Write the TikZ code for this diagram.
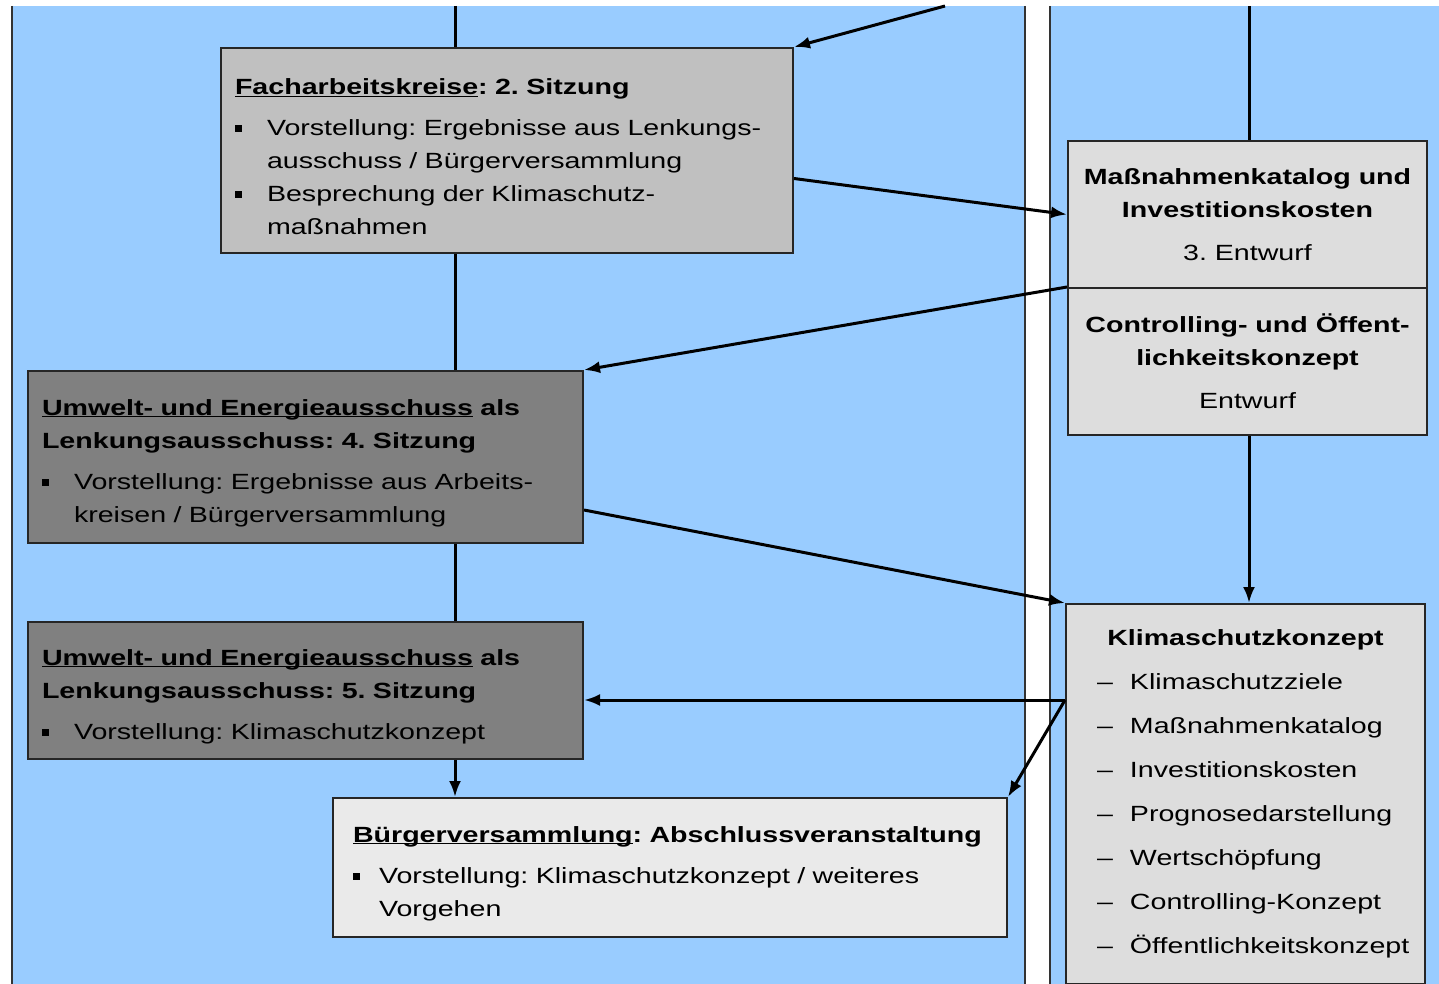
\documentclass[tikz,border=0pt]{standalone}
\usepackage{fontspec}
\setmainfont{Liberation Sans}[FakeStretch=1.3]
\usetikzlibrary{arrows.meta}

\definecolor{panelblue}{HTML}{99CCFF}
\definecolor{fachgray}{HTML}{C0C0C0}
\definecolor{lenkgray}{HTML}{808080}
\definecolor{buergergray}{HTML}{EAEAEA}
\definecolor{konzgray}{HTML}{DDDDDD}

\newcommand{\sqbul}[1][32pt]{\makebox[#1][l]{\rule[3pt]{7pt}{7pt}}}
\newcommand{\dashit}[1]{\mbox{\makebox[33pt][l]{--}#1}}
\newcommand{\ulword}[1]{\underline{\smash{#1}}}
\newcommand{\nohyph}{\hyphenpenalty=10000\relax\frenchspacing}
\newcommand{\topstrut}{\rule{0pt}{28pt}}

\begin{document}
\begin{tikzpicture}
[x=1pt,y=-1pt]
\tikzstyle{box}=[rectangle,draw=black!85,line width=2pt,inner ysep=0pt,
  font=\fontsize{22}{33}\selectfont\nohyph]
\tikzstyle{lbox}=[box,inner xsep=14pt,align=left]
\tikzstyle{cbox}=[box,fill=konzgray,minimum width=359pt,minimum height=147pt,align=center]
\tikzstyle{conn}=[line width=3pt]
\tikzstyle{arr}=[conn,-{Latex[length=16pt,width=12pt]}]

\useasboundingbox (0,0) rectangle (1439,984);

% panels
\fill[panelblue] (12,6) rectangle (1025,984);
\fill[panelblue] (1050,6) rectangle (1439,984);
\draw[line width=1.5pt,black!80] (12,6) -- (12,984);
\draw[line width=1.5pt,black!80] (1025,6) -- (1025,984);
\draw[line width=1.5pt,black!80] (1050,6) -- (1050,984);

\coordinate(tl) at (455,6);
\coordinate(tr) at (1249,6);
\coordinate(td) at (945,6);

\node(fach)[lbox,fill=fachgray,minimum width=572pt,minimum height=205pt,text width=544pt]
  at (507,150.5){\topstrut\textbf{\ulword{Facharbeitskreise}: 2. Sitzung}\\[8pt]
  \sqbul Vorstellung: Ergebnisse aus Lenkungs-\\
  \hspace*{32pt}ausschuss / Bürgerversammlung\\
  \sqbul Besprechung der Klimaschutz-\\
  \hspace*{32pt}maßnahmen};

\node(lenk4)[lbox,fill=lenkgray,minimum width=555pt,minimum height=172pt,text width=527pt]
  at (305.5,457){\topstrut\textbf{\ulword{Umwelt- und Energieausschuss} als}\\
  \textbf{Lenkungsausschuss: 4. Sitzung}\\[8pt]
  \sqbul Vorstellung: Ergebnisse aus Arbeits-\\
  \hspace*{32pt}kreisen / Bürgerversammlung};

\node(lenk5)[lbox,fill=lenkgray,minimum width=555pt,minimum height=137pt,text width=527pt]
  at (305.5,690.5){\topstrut\textbf{\ulword{Umwelt- und Energieausschuss} als}\\
  \textbf{Lenkungsausschuss: 5. Sitzung}\\[8pt]
  \sqbul Vorstellung: Klimaschutzkonzept};

\node(buerger)[lbox,fill=buergergray,inner xsep=20pt,minimum width=674pt,minimum height=139pt,text width=634pt]
  at (670,867.5){\topstrut\mbox{\textbf{\ulword{Bürgerversammlung}: Abschlussveranstaltung}}\\[8pt]
  \sqbul[26pt]Vorstellung: Klimaschutzkonzept / weiteres\\
  \hspace*{26pt}Vorgehen};

\node(mass)[cbox] at (1247.5,214.5){\textbf{Maßnahmenkatalog und}\\
  \textbf{Investitionskosten}\\[10pt] 3. Entwurf};

\node(contr)[cbox] at (1247.5,361.5){\textbf{Controlling- und Öffent-}\\
  \textbf{lichkeitskonzept}\\[10pt] Entwurf};

\node(klima)[box,fill=konzgray,inner xsep=31pt,minimum width=359pt,minimum height=380pt,
  text width=297pt,align=left,font=\fontsize{22}{44}\selectfont\nohyph]
  at (1245.5,794){\makebox[\linewidth]{\textbf{Klimaschutzkonzept}}\\
  \dashit{Klimaschutzziele}\\
  \dashit{Maßnahmenkatalog}\\
  \dashit{Investitionskosten}\\
  \dashit{Prognosedarstellung}\\
  \dashit{Wertschöpfung}\\
  \dashit{Controlling-Konzept}\\
  \dashit{Öffentlichkeitskonzept}};

\coordinate(kw) at ([yshift=94pt]klima.west);

% main line left
\draw[conn](tl)--(tl|-fach.north);
\draw[conn](fach.south-|tl)--(tl|-lenk4.north);
\draw[conn](lenk4.south-|tl)--(tl|-lenk5.north);
\draw[arr](lenk5.south-|tl)--(tl|-buerger.north);

% main line right
\draw[conn](tr)--(tr|-mass.north);
\draw[arr](contr.south-|tr)--(tr|-klima.north);

% cross links
\draw[arr](td)--(fach.north east);
\draw[arr]([yshift=-28pt]fach.east)--(mass.west);
\draw[arr](contr.north west)--(lenk4.north east);
\draw[arr]([yshift=-53pt]lenk4.east)--(klima.north west);
\draw[arr](kw)--(kw-|lenk5.east);
\draw[arr](kw)--(buerger.north east);
\end{tikzpicture}
\end{document}
